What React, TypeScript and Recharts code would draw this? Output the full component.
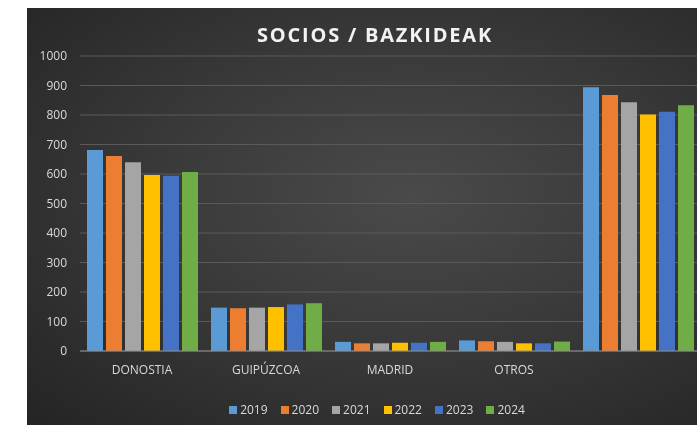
import { Bar, BarChart, CartesianGrid, Legend, XAxis, YAxis } from "recharts";

const categories = ["DONOSTIA", "GUIPÚZCOA", "MADRID", "OTROS", ""];
const years = ["2019", "2020", "2021", "2022", "2023", "2024"];

const s2019 = [681, 147, 31, 36, 894];
const s2020 = [661, 145, 26, 33, 868];
const s2021 = [640, 147, 26, 31, 843];
const s2022 = [597, 149, 28, 26, 802];
const s2023 = [594, 158, 28, 26, 811];
const s2024 = [607, 162, 31, 32, 833];

const yTicks = [0, 100, 200, 300, 400, 500, 600, 700, 800, 900, 1000];

const colors = ["#5B9BD5", "#ED7D31", "#A5A5A5", "#FFC000", "#4472C4", "#70AD47"];

const series = [s2019, s2020, s2021, s2022, s2023, s2024];

const data = categories.map((name, i) => {
  const row: Record<string, string | number> = { name };
  years.forEach((y, j) => {
    row[y] = series[j][i];
  });
  return row;
});

const W = 696;
const H = 417;

const YearLegend = () => (
  <div
    style={{
      height: 44,
      boxSizing: "border-box",
      paddingTop: 22,
      paddingLeft: 4,
      display: "flex",
      justifyContent: "center",
      alignItems: "flex-start",
    }}
  >
    {years.map((y, i) => (
      <div
        key={y}
        style={{
          display: "flex",
          alignItems: "center",
          marginRight: i < years.length - 1 ? 13 : 0,
          height: 14,
          lineHeight: "14px",
        }}
      >
        <span style={{ width: 8, height: 8, background: colors[i], marginRight: 3, display: "inline-block" }} />
        <span style={{ fontSize: 12, color: "#d9d9d9" }}>{y}</span>
      </div>
    ))}
  </div>
);

export default function App() {
  return (
    <div
      style={{
        position: "fixed",
        top: 8,
        left: 27,
        width: 670,
        height: H,
        overflow: "hidden",
      }}
    >
      <div
        style={{
          position: "relative",
          width: W,
          height: H,
          fontFamily: "'Open Sans', sans-serif",
          background: "radial-gradient(ellipse at 55% 45%, #4a4a4a 0%, #3a3a3a 45%, #2a2a2a 85%, #242424 100%)",
        }}
      >
        <div
          style={{
            position: "absolute",
            top: 17,
            left: 0,
            width: W,
            textAlign: "center",
            fontSize: 20,
            fontWeight: 700,
            lineHeight: "20px",
            letterSpacing: 1.8,
            color: "#f2f2f2",
          }}
        >
          SOCIOS / BAZKIDEAK
        </div>
        <BarChart
          width={W}
          height={H}
          data={data}
          margin={{ top: 48, right: 23, left: 0, bottom: 0 }}
          barCategoryGap={7}
          barGap={3}
        >
          <CartesianGrid vertical={false} stroke="#5a5a5a" />
          <XAxis
            dataKey="name"
            interval={0}
            height={30}
            tickLine={false}
            tickMargin={8}
            axisLine={{ stroke: "#8c8c8c" }}
            tick={{ fill: "#d9d9d9", fontSize: 12 }}
          />
          <YAxis
            domain={[0, 1000]}
            ticks={yTicks}
            width={53}
            axisLine={false}
            tickLine={false}
            tickMargin={7}
            tick={{ fill: "#d9d9d9", fontSize: 12 }}
          />
          <Legend
            verticalAlign="bottom"
            content={<YearLegend />}
            wrapperStyle={{ left: 0, width: W, bottom: 0 }}
          />
          {years.map((y, i) => (
            <Bar key={y} dataKey={y} name={y} fill={colors[i]} isAnimationActive={false} />
          ))}
        </BarChart>
      </div>
    </div>
  );
}
